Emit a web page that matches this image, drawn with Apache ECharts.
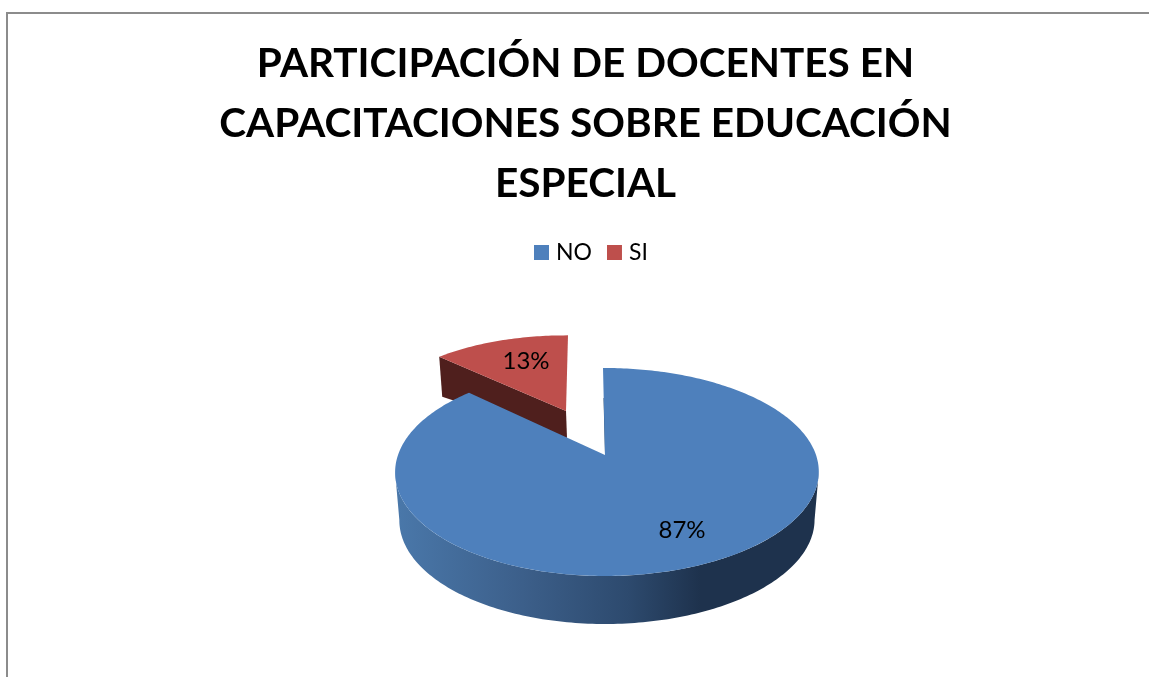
<!DOCTYPE html>
<html>
<head>
<meta charset="utf-8">
<title>Participación de docentes</title>
<style>
html, body { margin: 0; padding: 0; background: #fff; }
#chart { width: 1149px; height: 677px; }
</style>
<script src="https://cdn.jsdelivr.net/npm/echarts@6/dist/echarts.min.js"></script>
</head>
<body>
<div id="chart"></div>
<script>
var categories = ['NO', 'SI'];
var values = [87, 13];
var total = values[0] + values[1];

var FONT = 'Lato';
var PERSPECTIVE = 0.1635; // la parte de atras del disco se ve mas chica
var DEPTH = 48;
var LEAN = 2; // el disco esta un poco corrido a la derecha

// angulo en grados, horario desde las 12
function project(theta, p) {
    var r = theta * Math.PI / 180;
    var s = Math.sin(r);
    var d = 1 + PERSPECTIVE * Math.cos(r);
    return [p.x + p.rx * s / d + LEAN * s * s, p.y - p.ry * Math.cos(r) / d];
}

function arc(from, to, p) {
    var pts = [];
    var steps = Math.max(2, Math.ceil(Math.abs(to - from)));
    for (var i = 0; i <= steps; i++) {
        pts.push(project(from + (to - from) * i / steps, p));
    }
    return pts;
}

function lower(p) {
    return { x: p.x, y: p.y + p.depth, rx: p.rx * 0.98, ry: p.ry };
}

function polygon(points, fill) {
    return { type: 'polygon', shape: { points: points }, style: { fill: fill } };
}

var discNo = { x: 605, y: 455, rx: 209, ry: 101.2, depth: DEPTH };
var discSi = { x: 566, y: 411, rx: 195, ry: 88, depth: 27 };

function renderNo(params, api) {
    var end = api.value(0) / total * 360;
    var p = discNo;
    var q = lower(p);
    var side = Math.acos(-PERSPECTIVE) * 180 / Math.PI;
    var wall = arc(side, 360 - side, p).concat(arc(360 - side, side, q));
    var wallFill = new echarts.graphic.LinearGradient(0, 0, 1, 0, [
        { offset: 0, color: '#4a78aa' },
        { offset: 0.3, color: '#3c5f8a' },
        { offset: 0.55, color: '#2d4a6e' },
        { offset: 0.72, color: '#1e324d' },
        { offset: 1, color: '#1e324d' }
    ]);
    var top = arc(0, end, p);
    top[0][0] -= 2;
    return {
        type: 'group',
        children: [
            polygon(wall, wallFill),
            {
                type: 'polyline',
                shape: { points: [[top[0][0] + 1, top[0][1] + 30], [p.x + 0.5, p.y]] },
                style: { stroke: '#2a4766', lineWidth: 1, fill: null }
            },
            polygon([[p.x, p.y]].concat(top), '#4e80bc'),
            {
                type: 'text',
                style: {
                    text: Math.round(api.value(0)) + '%',
                    x: 682, y: 530,
                    align: 'center', verticalAlign: 'middle',
                    font: '24px ' + FONT, fill: '#000'
                }
            }
        ]
    };
}

function renderSi(params, api) {
    var start = 360 - api.value(0) / total * 360;
    var p = discSi;
    var tip = project(start, p);
    var tipLow = [tip[0] + 3, tip[1] + 40];
    var top = arc(start, 360, p);
    top[top.length - 1][0] += 2;
    return {
        type: 'group',
        children: [
            polygon([tip, [p.x, p.y], [p.x + 1, p.y + p.depth], tipLow], '#4f1f1d'),
            polygon([[p.x, p.y]].concat(top), '#be4f4c'),
            {
                type: 'text',
                style: {
                    text: Math.round(api.value(0)) + '%',
                    x: 526, y: 361,
                    align: 'center', verticalAlign: 'middle',
                    font: '24px ' + FONT, fill: '#000'
                }
            }
        ]
    };
}

var chart = echarts.init(document.getElementById('chart'), null, { renderer: 'canvas' });
chart.setOption({
    animation: false,
    backgroundColor: '#fff',
    title: {
        text: 'PARTICIPACIÓN DE DOCENTES EN\nCAPACITACIONES SOBRE EDUCACIÓN\nESPECIAL',
        left: 580.5,
        top: 29,
        textAlign: 'center',
        textStyle: {
            fontFamily: FONT,
            fontWeight: 'bold',
            fontSize: 40.5,
            lineHeight: 60,
            color: '#000'
        }
    },
    legend: {
        data: categories,
        left: 534,
        top: 241,
        padding: 0,
        icon: 'rect',
        itemWidth: 15,
        itemHeight: 15,
        itemGap: 15,
        textStyle: { fontFamily: FONT, fontSize: 23, color: '#000', padding: [0, 0, 0, 2] },
        selectedMode: false
    },
    graphic: [{
        type: 'polyline',
        silent: true,
        shape: { points: [[7, 677], [7, 13], [1149, 13]] },
        style: { stroke: '#8c8c8c', lineWidth: 2, fill: null }
    }],
    series: [{
        name: categories[1],
        type: 'custom',
        coordinateSystem: 'none',
        z: 2,
        itemStyle: { color: '#be4f4c' },
        renderItem: renderSi,
        data: [[values[1]]]
    }, {
        name: categories[0],
        type: 'custom',
        coordinateSystem: 'none',
        z: 3,
        itemStyle: { color: '#4e80bc' },
        renderItem: renderNo,
        data: [[values[0]]]
    }]
});
</script>
</body>
</html>
